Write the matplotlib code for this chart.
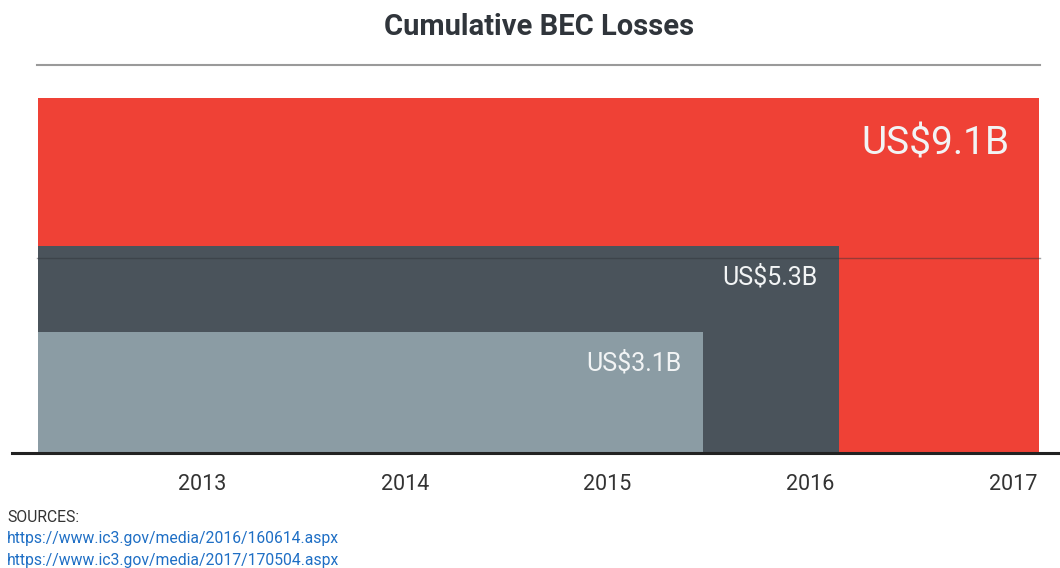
import matplotlib.pyplot as plt
from matplotlib.lines import Line2D

# Cumulative BEC losses (US$ billions) and where each bar stops on the year axis
values = [9.1, 5.3, 3.1]
bar_ends = [2017.13, 2016.14, 2015.47]
labels = ["US$9.1B", "US$5.3B", "US$3.1B"]
colors = ["#EF4136", "#4A535B", "#8B9CA4"]
label_sizes = [28, 18, 18]
years = [2013, 2014, 2015, 2016, 2017]
bar_start = 2012.19
sources = ["https://www.ic3.gov/media/2016/160614.aspx",
           "https://www.ic3.gov/media/2017/170504.aspx"]

plt.rcParams['font.family'] = ['Roboto', 'DejaVu Sans']

fig = plt.figure(figsize=(10.6, 5.68), dpi=100)
ax = fig.add_axes([0, (568 - 453) / 568, 1, 355 / 568])
ax.set_xlim(2012.004, 2017.232)
ax.set_ylim(0, 9.1)

# biggest bar first so the smaller ones sit on top
for v, end, lab, c, fs in zip(values, bar_ends, labels, colors, label_sizes):
    ax.bar(bar_start, v, width=end - bar_start, align='edge', color=c, zorder=2)
    big = fs > 20
    ax.annotate(lab, (end, v), xytext=(-30 * 0.72 if big else -21 * 0.72,
                                       (-46 if big else -31) * 0.72),
                textcoords='offset points', ha='right', va='center',
                color='#F2F4F5', fontsize=fs, zorder=4)

# faint reference line at 5
ax.axhline(5, xmin=37 / 1060, xmax=1040 / 1060, color='#2E3338', alpha=0.45,
           lw=1, zorder=3)
ax.axhline(0, xmin=12 / 1060, xmax=1, color='#222222', lw=2.2, zorder=5,
           clip_on=False)

ax.set_xticks(years)
ax.set_xticklabels([str(y) for y in years], fontsize=15.5, color='#333333')
ax.tick_params(axis='x', length=0, pad=15)
ax.set_yticks([])
for s in ax.spines.values():
    s.set_visible(False)

fig.text(539 / 1060, 1 - 27 / 568, "Cumulative BEC Losses", ha='center',
         va='center', fontsize=21, fontweight='bold', color='#30353B')
fig.add_artist(Line2D([37 / 1060, 1040 / 1060], [1 - 65 / 568, 1 - 65 / 568],
                      color='#9A9A9A', lw=1.5))

fig.text(7 / 1060, 1 - 517 / 568, "SOURCES:", ha='left', va='center',
         fontsize=11.3, color='#333333')
for i, s in enumerate(sources):
    fig.text(7 / 1060, 1 - (539 + 21 * i) / 568, s, ha='left', va='center',
             fontsize=11.3, color='#1F6FC5')

fig.savefig("out.png", dpi=100)
